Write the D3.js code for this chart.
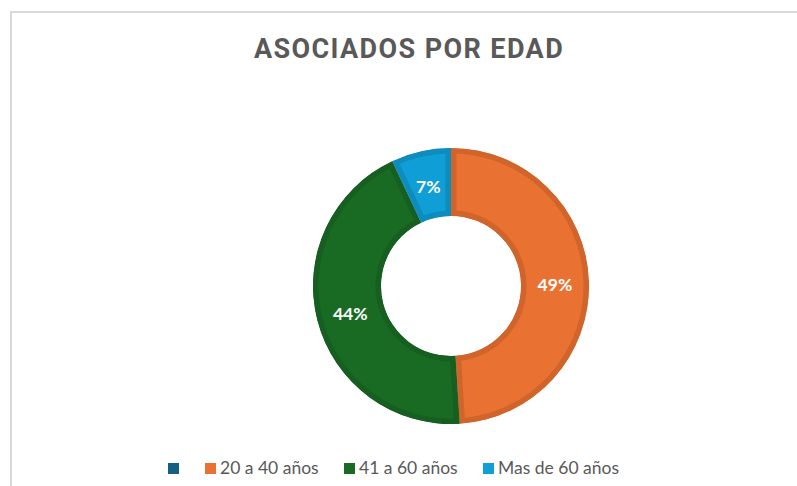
<!DOCTYPE html>
<html>
<head>
<meta charset="utf-8">
<script src="https://cdn.jsdelivr.net/npm/d3@7"></script>
<style>
  body { margin: 0; background: #fff; }
  svg { display: block; }
</style>
</head>
<body>
<svg id="chart" width="797" height="486"></svg>
<script>
// data
var title = "ASOCIADOS POR EDAD";
var categories = ["", "20 a 40 años", "41 a 60 años", "Mas de 60 años"];
var values = [0, 49, 44, 7];
var colors = ["#156082", "#E97132", "#196B24", "#0F9ED5"];
var borders = ["#124f6b", "#d0642b", "#175f20", "#0d8cbd"];

var svg = d3.select("#chart"),
    width = +svg.attr("width"),
    height = +svg.attr("height");

// chart area border (only top and left visible)
svg.append("rect")
    .attr("x", 11).attr("y", 12)
    .attr("width", width + 20).attr("height", height + 20)
    .attr("fill", "none")
    .attr("stroke", "#d9d9d9")
    .attr("stroke-width", 2);

svg.append("text")
    .attr("x", 409).attr("y", 58)
    .attr("text-anchor", "middle")
    .attr("font-family", "Roboto, sans-serif")
    .attr("font-weight", "bold")
    .attr("font-size", 27)
    .attr("letter-spacing", 1.4)
    .attr("fill", "#595959")
    .text(title);

var cx = 451, cy = 286, rOuter = 138, rInner = 70;

var data = categories.map(function(c, i) { return {name: c, value: values[i], i: i}; });

var pie = d3.pie()
    .sort(null)
    .value(function(d) { return d.value; });

var arc = d3.arc()
    .innerRadius(rInner)
    .outerRadius(rOuter);

var g = svg.append("g")
    .attr("transform", "translate(" + cx + "," + cy + ")");

var arcs = pie(data).filter(function(d) { return d.data.value > 0; });

var defs = svg.append("defs");
arcs.forEach(function(d) {
  defs.append("clipPath")
      .attr("id", "clip" + d.data.i)
    .append("path")
      .attr("d", arc(d));
});

g.selectAll("path.slice")
    .data(arcs)
  .enter().append("path")
    .attr("class", "slice")
    .attr("d", arc)
    .attr("fill", function(d) { return colors[d.data.i]; })
    .attr("stroke", function(d) { return borders[d.data.i]; })
    .attr("stroke-width", 11)
    .attr("clip-path", function(d) { return "url(#clip" + d.data.i + ")"; });

var labelArc = d3.arc()
    .innerRadius((rInner + rOuter) / 2)
    .outerRadius((rInner + rOuter) / 2);

g.selectAll("text.label")
    .data(arcs)
  .enter().append("text")
    .attr("class", "label")
    .attr("transform", function(d) {
      var c = labelArc.centroid(d);
      return "translate(" + c[0] + "," + (c[1] + 2) + ")";
    })
    .attr("dy", "0.35em")
    .attr("text-anchor", "middle")
    .attr("font-family", "Lato, sans-serif")
    .attr("font-weight", "bold")
    .attr("font-size", 17.5)
    .attr("fill", "#fff")
    .text(function(d) { return d.data.value + "%"; });

// legend
var legendX = [168, 205, 344, 483];
var legend = svg.append("g");
var items = legend.selectAll("g")
    .data(data)
  .enter().append("g")
    .attr("transform", function(d, i) { return "translate(" + legendX[i] + ",463)"; });

items.append("rect")
    .attr("width", 11).attr("height", 11)
    .attr("fill", function(d) { return colors[d.i]; });

items.append("text")
    .attr("x", 15).attr("y", 11)
    .attr("font-family", "Lato, sans-serif")
    .attr("font-size", 17.5)
    .attr("fill", "#595959")
    .text(function(d) { return d.name; });
</script>
</body>
</html>
